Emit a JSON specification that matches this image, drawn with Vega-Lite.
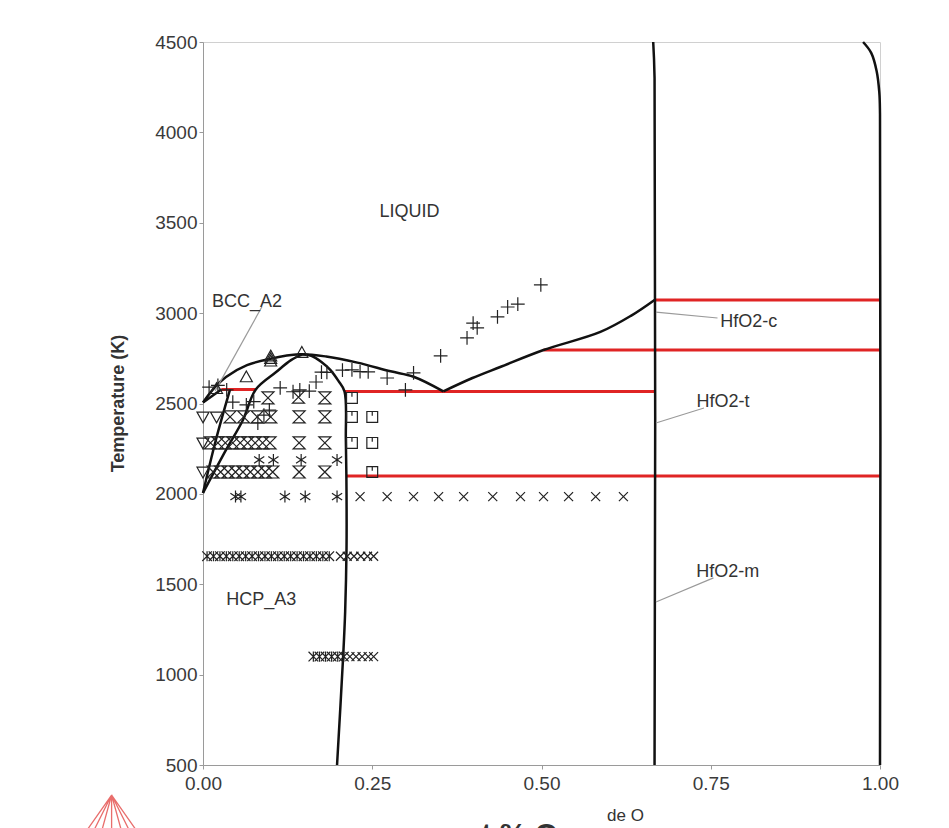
{
  "$schema": "https://vega.github.io/schema/vega-lite/v6.json",
  "width": 677,
  "height": 723,
  "autosize": {"type": "none"},
  "padding": {"left": 203, "top": 42, "right": 69, "bottom": 63},
  "background": "white",
  "config": {
    "font": "Liberation Sans",
    "view": {"stroke": "#d0d0d0", "strokeWidth": 1}
  },
  "datasets": {
    "curves": [
      {"c": "liqA", "k": "black", "o": 1, "x": 0.0, "T": 2506},
      {"c": "liqA", "k": "black", "o": 2, "x": 0.017, "T": 2588},
      {"c": "liqA", "k": "black", "o": 3, "x": 0.034, "T": 2647},
      {"c": "liqA", "k": "black", "o": 4, "x": 0.065, "T": 2712},
      {"c": "liqA", "k": "black", "o": 5, "x": 0.098, "T": 2746},
      {"c": "liqA", "k": "black", "o": 6, "x": 0.142, "T": 2772},
      {"c": "liqA", "k": "black", "o": 7, "x": 0.182, "T": 2760},
      {"c": "liqA", "k": "black", "o": 8, "x": 0.228, "T": 2726},
      {"c": "liqA", "k": "black", "o": 9, "x": 0.277, "T": 2678},
      {"c": "liqA", "k": "black", "o": 10, "x": 0.311, "T": 2648},
      {"c": "liqA", "k": "black", "o": 11, "x": 0.355, "T": 2567},
      {"c": "liqB", "k": "black", "o": 1, "x": 0.355, "T": 2567},
      {"c": "liqB", "k": "black", "o": 2, "x": 0.398, "T": 2641},
      {"c": "liqB", "k": "black", "o": 3, "x": 0.439, "T": 2702},
      {"c": "liqB", "k": "black", "o": 4, "x": 0.503, "T": 2796},
      {"c": "liqB", "k": "black", "o": 5, "x": 0.587, "T": 2896},
      {"c": "liqB", "k": "black", "o": 6, "x": 0.632, "T": 2985},
      {"c": "liqB", "k": "black", "o": 7, "x": 0.667, "T": 3073},
      {"c": "bccS", "k": "black", "o": 1, "x": 0.0, "T": 2506},
      {"c": "bccS", "k": "black", "o": 2, "x": 0.027, "T": 2578},
      {"c": "c3", "k": "black", "o": 1, "x": 0.0, "T": 2005},
      {"c": "c3", "k": "black", "o": 2, "x": 0.019, "T": 2298},
      {"c": "c3", "k": "black", "o": 3, "x": 0.04, "T": 2578},
      {"c": "c4", "k": "black", "o": 1, "x": 0.0, "T": 2005},
      {"c": "c4", "k": "black", "o": 2, "x": 0.034, "T": 2243},
      {"c": "c4", "k": "black", "o": 3, "x": 0.059, "T": 2409},
      {"c": "c4", "k": "black", "o": 4, "x": 0.078, "T": 2578},
      {"c": "c4", "k": "black", "o": 5, "x": 0.108, "T": 2674},
      {"c": "c4", "k": "black", "o": 6, "x": 0.13, "T": 2740},
      {"c": "c4", "k": "black", "o": 7, "x": 0.148, "T": 2773},
      {"c": "c5", "k": "black", "o": 1, "x": 0.148, "T": 2773},
      {"c": "c5", "k": "black", "o": 2, "x": 0.16, "T": 2764},
      {"c": "c5", "k": "black", "o": 3, "x": 0.175, "T": 2730},
      {"c": "c5", "k": "black", "o": 4, "x": 0.188, "T": 2686},
      {"c": "c5", "k": "black", "o": 5, "x": 0.2, "T": 2625},
      {"c": "c5", "k": "black", "o": 6, "x": 0.209, "T": 2567},
      {"c": "c5", "k": "black", "o": 7, "x": 0.211, "T": 2300},
      {"c": "c5", "k": "black", "o": 8, "x": 0.212, "T": 2000},
      {"c": "c5", "k": "black", "o": 9, "x": 0.212, "T": 1700},
      {"c": "c5", "k": "black", "o": 10, "x": 0.21, "T": 1350},
      {"c": "c5", "k": "black", "o": 11, "x": 0.207, "T": 1100},
      {"c": "c5", "k": "black", "o": 12, "x": 0.198, "T": 500},
      {"c": "hfo2", "k": "black", "o": 1, "x": 0.665, "T": 4500},
      {"c": "hfo2", "k": "black", "o": 2, "x": 0.667, "T": 4300},
      {"c": "hfo2", "k": "black", "o": 3, "x": 0.667, "T": 500},
      {"c": "rt", "k": "black", "o": 1, "x": 0.975, "T": 4500},
      {"c": "rt", "k": "black", "o": 2, "x": 0.987, "T": 4440},
      {"c": "rt", "k": "black", "o": 3, "x": 0.995, "T": 4340},
      {"c": "rt", "k": "black", "o": 4, "x": 0.999, "T": 4220},
      {"c": "rt", "k": "black", "o": 5, "x": 1.0, "T": 4100},
      {"c": "rt", "k": "black", "o": 6, "x": 1.0, "T": 500},
      {"c": "r1", "k": "red", "o": 1, "x": 0.667, "T": 3073},
      {"c": "r1", "k": "red", "o": 2, "x": 1.0, "T": 3073},
      {"c": "r2", "k": "red", "o": 1, "x": 0.503, "T": 2796},
      {"c": "r2", "k": "red", "o": 2, "x": 1.0, "T": 2796},
      {"c": "r3", "k": "red", "o": 1, "x": 0.209, "T": 2567},
      {"c": "r3", "k": "red", "o": 2, "x": 0.667, "T": 2567},
      {"c": "r4", "k": "red", "o": 1, "x": 0.211, "T": 2099},
      {"c": "r4", "k": "red", "o": 2, "x": 1.0, "T": 2099},
      {"c": "r5", "k": "red", "o": 1, "x": 0.027, "T": 2578},
      {"c": "r5", "k": "red", "o": 2, "x": 0.078, "T": 2578},
      {"c": "l1", "k": "lead", "o": 1, "x": 0.087, "T": 3035},
      {"c": "l1", "k": "lead", "o": 2, "x": 0.018, "T": 2570},
      {"c": "l2", "k": "lead", "o": 1, "x": 0.76, "T": 2973},
      {"c": "l2", "k": "lead", "o": 2, "x": 0.669, "T": 3006},
      {"c": "l3", "k": "lead", "o": 1, "x": 0.74, "T": 2475},
      {"c": "l3", "k": "lead", "o": 2, "x": 0.669, "T": 2392},
      {"c": "l4", "k": "lead", "o": 1, "x": 0.754, "T": 1535},
      {"c": "l4", "k": "lead", "o": 2, "x": 0.669, "T": 1402}
    ],
    "points": [
      {"s": "p", "x": 0.009, "T": 2591}, {"s": "p", "x": 0.022, "T": 2600}, {"s": "p", "x": 0.035, "T": 2575},
      {"s": "p", "x": 0.044, "T": 2508}, {"s": "p", "x": 0.064, "T": 2492}, {"s": "p", "x": 0.075, "T": 2510},
      {"s": "p", "x": 0.098, "T": 2464}, {"s": "p", "x": 0.09, "T": 2436}, {"s": "p", "x": 0.081, "T": 2392},
      {"s": "p", "x": 0.114, "T": 2586}, {"s": "p", "x": 0.133, "T": 2565}, {"s": "p", "x": 0.143, "T": 2575},
      {"s": "p", "x": 0.157, "T": 2568}, {"s": "p", "x": 0.167, "T": 2619}, {"s": "p", "x": 0.175, "T": 2674},
      {"s": "p", "x": 0.183, "T": 2672}, {"s": "p", "x": 0.206, "T": 2685}, {"s": "p", "x": 0.22, "T": 2686},
      {"s": "p", "x": 0.232, "T": 2676}, {"s": "p", "x": 0.244, "T": 2675}, {"s": "p", "x": 0.272, "T": 2641},
      {"s": "p", "x": 0.299, "T": 2575}, {"s": "p", "x": 0.311, "T": 2669}, {"s": "p", "x": 0.351, "T": 2763},
      {"s": "p", "x": 0.39, "T": 2863}, {"s": "p", "x": 0.399, "T": 2945}, {"s": "p", "x": 0.405, "T": 2918},
      {"s": "p", "x": 0.435, "T": 2979}, {"s": "p", "x": 0.45, "T": 3034}, {"s": "p", "x": 0.465, "T": 3050},
      {"s": "p", "x": 0.499, "T": 3156},
      {"s": "tu", "x": 0.02, "T": 2582}, {"s": "tu", "x": 0.064, "T": 2647}, {"s": "tu", "x": 0.1, "T": 2762},
      {"s": "tu", "x": 0.1, "T": 2748}, {"s": "tu", "x": 0.1, "T": 2734}, {"s": "tu", "x": 0.146, "T": 2782},
      {"s": "td", "x": 0.0, "T": 2426}, {"s": "td", "x": 0.02, "T": 2426}, {"s": "td", "x": 0.0, "T": 2121},
      {"s": "td", "x": 0.0, "T": 2282},
      {"s": "h", "x": 0.096, "T": 2531}, {"s": "h", "x": 0.141, "T": 2535}, {"s": "h", "x": 0.18, "T": 2531},
      {"s": "h", "x": 0.04, "T": 2426}, {"s": "h", "x": 0.06, "T": 2426}, {"s": "h", "x": 0.08, "T": 2426},
      {"s": "h", "x": 0.1, "T": 2426}, {"s": "h", "x": 0.142, "T": 2426}, {"s": "h", "x": 0.18, "T": 2426},
      {"s": "h", "x": 0.011, "T": 2282}, {"s": "h", "x": 0.022, "T": 2282}, {"s": "h", "x": 0.033, "T": 2282},
      {"s": "h", "x": 0.044, "T": 2282}, {"s": "h", "x": 0.055, "T": 2282}, {"s": "h", "x": 0.066, "T": 2282},
      {"s": "h", "x": 0.077, "T": 2282}, {"s": "h", "x": 0.088, "T": 2282}, {"s": "h", "x": 0.099, "T": 2282},
      {"s": "h", "x": 0.142, "T": 2282}, {"s": "h", "x": 0.18, "T": 2282},
      {"s": "h", "x": 0.015, "T": 2121}, {"s": "h", "x": 0.026, "T": 2121}, {"s": "h", "x": 0.037, "T": 2121},
      {"s": "h", "x": 0.048, "T": 2121}, {"s": "h", "x": 0.059, "T": 2121}, {"s": "h", "x": 0.07, "T": 2121},
      {"s": "h", "x": 0.081, "T": 2121}, {"s": "h", "x": 0.092, "T": 2121}, {"s": "h", "x": 0.103, "T": 2121},
      {"s": "h", "x": 0.142, "T": 2121}, {"s": "h", "x": 0.18, "T": 2121},
      {"s": "q", "x": 0.22, "T": 2531}, {"s": "q", "x": 0.22, "T": 2426}, {"s": "q", "x": 0.25, "T": 2426},
      {"s": "q", "x": 0.22, "T": 2282}, {"s": "q", "x": 0.25, "T": 2282}, {"s": "q", "x": 0.25, "T": 2121},
      {"s": "a", "x": 0.083, "T": 2188}, {"s": "a", "x": 0.104, "T": 2188}, {"s": "a", "x": 0.145, "T": 2188},
      {"s": "a", "x": 0.198, "T": 2188}, {"s": "a", "x": 0.048, "T": 1985}, {"s": "a", "x": 0.056, "T": 1985},
      {"s": "a", "x": 0.121, "T": 1985}, {"s": "a", "x": 0.151, "T": 1985}, {"s": "a", "x": 0.198, "T": 1985},
      {"s": "x", "x": 0.232, "T": 1985}, {"s": "x", "x": 0.272, "T": 1985}, {"s": "x", "x": 0.311, "T": 1985},
      {"s": "x", "x": 0.348, "T": 1985}, {"s": "x", "x": 0.385, "T": 1985}, {"s": "x", "x": 0.428, "T": 1985},
      {"s": "x", "x": 0.469, "T": 1985}, {"s": "x", "x": 0.503, "T": 1985}, {"s": "x", "x": 0.54, "T": 1985},
      {"s": "x", "x": 0.58, "T": 1985}, {"s": "x", "x": 0.621, "T": 1985},
      {"s": "d", "x": 0.006, "T": 1655}, {"s": "d", "x": 0.0155, "T": 1655}, {"s": "d", "x": 0.025, "T": 1655},
      {"s": "d", "x": 0.0345, "T": 1655}, {"s": "d", "x": 0.044, "T": 1655}, {"s": "d", "x": 0.0535, "T": 1655},
      {"s": "d", "x": 0.063, "T": 1655}, {"s": "d", "x": 0.0725, "T": 1655}, {"s": "d", "x": 0.082, "T": 1655},
      {"s": "d", "x": 0.0915, "T": 1655}, {"s": "d", "x": 0.101, "T": 1655}, {"s": "d", "x": 0.1105, "T": 1655},
      {"s": "d", "x": 0.12, "T": 1655}, {"s": "d", "x": 0.1295, "T": 1655}, {"s": "d", "x": 0.139, "T": 1655},
      {"s": "d", "x": 0.1485, "T": 1655}, {"s": "d", "x": 0.158, "T": 1655}, {"s": "d", "x": 0.1675, "T": 1655},
      {"s": "d", "x": 0.177, "T": 1655}, {"s": "d", "x": 0.1865, "T": 1655},
      {"s": "x", "x": 0.203, "T": 1655}, {"s": "x", "x": 0.213, "T": 1655}, {"s": "x", "x": 0.223, "T": 1655},
      {"s": "x", "x": 0.233, "T": 1655}, {"s": "x", "x": 0.243, "T": 1655}, {"s": "x", "x": 0.252, "T": 1655},
      {"s": "d", "x": 0.163, "T": 1100}, {"s": "d", "x": 0.172, "T": 1100}, {"s": "d", "x": 0.181, "T": 1100},
      {"s": "d", "x": 0.19, "T": 1100}, {"s": "d", "x": 0.199, "T": 1100}, {"s": "d", "x": 0.208, "T": 1100},
      {"s": "x", "x": 0.217, "T": 1100}, {"s": "x", "x": 0.226, "T": 1100}, {"s": "x", "x": 0.235, "T": 1100},
      {"s": "x", "x": 0.244, "T": 1100}, {"s": "x", "x": 0.252, "T": 1100}
    ],
    "labels": [
      {"label": "LIQUID", "x": 0.305, "T": 3560},
      {"label": "BCC_A2", "x": 0.065, "T": 3062},
      {"label": "HCP_A3", "x": 0.086, "T": 1413},
      {"label": "HfO2-c", "x": 0.806, "T": 2951},
      {"label": "HfO2-t", "x": 0.768, "T": 2508},
      {"label": "HfO2-m", "x": 0.775, "T": 1568}
    ]
  },
  "encoding": {
    "x": {
      "field": "x", "type": "quantitative",
      "scale": {"domain": [0, 1], "nice": false, "zero": false},
      "axis": {
        "values": [0, 0.25, 0.5, 0.75, 1], "format": ".2f", "title": "at.% O", "grid": false,
        "labelFlush": false, "labelOverlap": false,
        "domainColor": "#9a9a9a", "tickColor": "#9a9a9a", "tickSize": 4,
        "labelFontSize": 19, "labelColor": "#3a3a3a", "labelPadding": 5, "labelFont": "Liberation Sans",
        "titleFontSize": 30, "titleFontWeight": "bold", "titleColor": "#333", "titleFont": "Liberation Sans",
        "titleX": 308, "titleY": 78, "titleBaseline": "alphabetic", "titleAlign": "center"
      }
    },
    "y": {
      "field": "T", "type": "quantitative",
      "scale": {"domain": [500, 4500], "nice": false, "zero": false},
      "axis": {
        "values": [500, 1000, 1500, 2000, 2500, 3000, 3500, 4000, 4500], "format": "d", "title": "Temperature (K)", "grid": false,
        "labelFlush": false, "labelOverlap": false,
        "domainColor": "#9a9a9a", "tickColor": "#9a9a9a", "tickSize": 4,
        "labelFontSize": 19, "labelColor": "#3a3a3a", "labelPadding": 2, "labelFont": "Liberation Sans",
        "titleFontSize": 18, "titleFontWeight": "bold", "titleColor": "#333", "titleFont": "Liberation Sans",
        "titleX": -85, "titleY": 361, "titleAngle": -90, "titleAlign": "center", "titleBaseline": "middle"
      }
    }
  },
  "layer": [
    {
      "data": {"name": "curves"},
      "transform": [{"filter": "datum.k === 'red'"}],
      "mark": {"type": "line", "color": "#e02424", "strokeWidth": 3},
      "encoding": {"detail": {"field": "c"}, "order": {"field": "o", "type": "quantitative"}}
    },
    {
      "data": {"name": "curves"},
      "transform": [{"filter": "datum.k === 'black'"}],
      "mark": {"type": "line", "color": "#111", "strokeWidth": 2.5, "interpolate": "catmull-rom"},
      "encoding": {"detail": {"field": "c"}, "order": {"field": "o", "type": "quantitative"}}
    },
    {
      "data": {"name": "curves"},
      "transform": [{"filter": "datum.k === 'lead'"}],
      "mark": {"type": "line", "color": "#9a9a9a", "strokeWidth": 1.2},
      "encoding": {"detail": {"field": "c"}, "order": {"field": "o", "type": "quantitative"}}
    },
    {
      "data": {"name": "points"},
      "mark": {"type": "point", "filled": false, "stroke": "#222", "strokeWidth": 1.2, "size": 144, "opacity": 1},
      "encoding": {
        "shape": {
          "field": "s", "type": "nominal", "legend": null,
          "scale": {
            "domain": ["p", "x", "a", "h", "q", "tu", "td", "d"],
            "range": [
              "M-1.15,0L1.15,0M0,-1.15L0,1.15",
              "M-0.75,-0.75L0.75,0.75M-0.75,0.75L0.75,-0.75",
              "M0,-1L0,1M-0.85,-0.55L0.85,0.55M-0.85,0.55L0.85,-0.55",
              "M-1,-1L1,-1L-1,1L1,1Z",
              "M-0.9,-0.9L0.9,-0.9L0.9,0.9L-0.9,0.9ZM0,-0.9L0,-0.2",
              "M0,-1L1,0.8L-1,0.8Z",
              "M0,1L1,-0.8L-1,-0.8Z",
              "M0,-0.85L0,0.85M-0.8,-0.8L0.8,0.8M-0.8,0.8L0.8,-0.8"
            ]
          }
        }
      }
    },
    {
      "data": {"name": "labels"},
      "mark": {"type": "text", "fontSize": 18, "color": "#333", "align": "center", "baseline": "middle", "font": "Liberation Sans"},
      "encoding": {"text": {"field": "label"}}
    },
    {
      "data": {"values": [{"label": "de O", "x": 0.624, "T": 190}]},
      "mark": {"type": "text", "fontSize": 17, "color": "#333", "align": "center", "baseline": "alphabetic", "font": "Liberation Sans"},
      "encoding": {"text": {"field": "label"}}
    },
    {
      "data": {"values": [{"x": -0.135, "T": 85}]},
      "mark": {
        "type": "point", "filled": false, "stroke": "#e0312f", "strokeWidth": 1.3, "size": 8100,
        "shape": "M0,-1L-1.4,1M0,-1L1.4,1M0,-1L-1,1M0,-1L1,1M0,-1L-0.55,1M0,-1L0.55,1M0,-1L0,0.3"
      },
      "encoding": {}
    }
  ]
}
